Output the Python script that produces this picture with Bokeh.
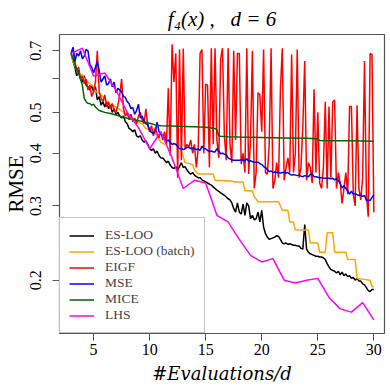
from math import pi
from bokeh.plotting import figure
from bokeh.models import FixedTicker, Range1d
from bokeh.embed import file_html
from bokeh.resources import INLINE

D = 6
evaluations = list(range(18, 181))
x_grid = [n / D for n in evaluations]

es_loo = [
    0.69, 0.66, 0.64, 0.61, 0.63, 0.60,
    0.59, 0.61, 0.58, 0.575, 0.565, 0.58,
    0.56, 0.575, 0.535, 0.545, 0.52, 0.53,
    0.515, 0.53, 0.51, 0.52, 0.50, 0.51,
    0.495, 0.50, 0.49, 0.485, 0.49, 0.475,
    0.47, 0.458, 0.455, 0.45, 0.455, 0.44,
    0.437, 0.44, 0.43, 0.425, 0.428, 0.42,
    0.41, 0.406, 0.41, 0.40, 0.405, 0.395,
    0.39, 0.39, 0.385, 0.38, 0.383, 0.375,
    0.37, 0.368, 0.372, 0.365, 0.372, 0.38,
    0.37, 0.372, 0.365, 0.36, 0.357, 0.36,
    0.355, 0.352, 0.35, 0.35, 0.346, 0.344,
    0.342, 0.34, 0.338, 0.336, 0.333, 0.33,
    0.327, 0.325, 0.322, 0.32, 0.318, 0.315,
    0.312, 0.31, 0.305, 0.296, 0.29, 0.305,
    0.29, 0.287, 0.303, 0.285, 0.305, 0.30,
    0.28, 0.285, 0.278, 0.28, 0.29, 0.275,
    0.293, 0.267, 0.258, 0.253, 0.25, 0.251,
    0.252, 0.253, 0.255, 0.254, 0.25, 0.245,
    0.244, 0.245, 0.243, 0.244, 0.243, 0.242,
    0.242, 0.241, 0.241, 0.238, 0.237, 0.271,
    0.237, 0.233, 0.231, 0.23, 0.229, 0.228,
    0.228, 0.227, 0.227, 0.226, 0.224, 0.219,
    0.215, 0.212, 0.211, 0.21, 0.208, 0.21,
    0.206, 0.209, 0.205, 0.207, 0.204, 0.205,
    0.202, 0.203, 0.20, 0.202, 0.199, 0.199,
    0.196, 0.195, 0.192, 0.189, 0.188, 0.19,
    0.19,
]

eigf = [
    0.69, 0.713, 0.66, 0.63, 0.64, 0.60,
    0.61, 0.585, 0.60, 0.565, 0.58, 0.545,
    0.56, 0.59, 0.70, 0.56, 0.54, 0.53,
    0.55, 0.515, 0.53, 0.51, 0.525, 0.505,
    0.50, 0.52, 0.55, 0.60, 0.51, 0.49,
    0.50, 0.48, 0.495, 0.475, 0.485, 0.47,
    0.49, 0.50, 0.48, 0.47, 0.51, 0.465,
    0.45, 0.465, 0.44, 0.46, 0.445, 0.435,
    0.45, 0.43, 0.45, 0.42, 0.57, 0.395,
    0.725, 0.59, 0.69, 0.35, 0.705, 0.385,
    0.709, 0.41, 0.42, 0.413, 0.43, 0.40,
    0.42, 0.37, 0.41, 0.69, 0.705, 0.40,
    0.583, 0.58, 0.37, 0.71, 0.42, 0.71,
    0.43, 0.39, 0.67, 0.71, 0.44, 0.385,
    0.71, 0.42, 0.38, 0.70, 0.43, 0.69,
    0.69, 0.377, 0.40, 0.36, 0.71, 0.357,
    0.43, 0.70, 0.33, 0.36, 0.557, 0.55,
    0.45, 0.705, 0.36, 0.357, 0.42, 0.71,
    0.33, 0.345, 0.38, 0.35, 0.567, 0.71,
    0.345, 0.37, 0.39, 0.36, 0.686, 0.36,
    0.40, 0.705, 0.35, 0.37, 0.466, 0.662,
    0.345, 0.38, 0.37, 0.34, 0.567, 0.36,
    0.50, 0.34, 0.33, 0.37, 0.53, 0.33,
    0.516, 0.35, 0.53, 0.535, 0.33, 0.36,
    0.34, 0.304, 0.33, 0.36, 0.32, 0.516,
    0.516, 0.32, 0.30, 0.52, 0.33, 0.31,
    0.35, 0.662, 0.32, 0.283, 0.69, 0.685,
    0.29,
]

mse = [
    0.69, 0.713, 0.66, 0.69, 0.68, 0.70,
    0.67, 0.68, 0.705, 0.70, 0.65, 0.64,
    0.62, 0.64, 0.66, 0.63, 0.59, 0.60,
    0.61, 0.58, 0.585, 0.60, 0.575, 0.59,
    0.556, 0.57, 0.565, 0.56, 0.545, 0.543,
    0.53, 0.525, 0.51, 0.514, 0.495, 0.505,
    0.523, 0.485, 0.49, 0.476, 0.47, 0.468,
    0.455, 0.448, 0.445, 0.45, 0.474, 0.45,
    0.445, 0.44, 0.433, 0.428, 0.43, 0.425,
    0.42, 0.422, 0.42, 0.415, 0.41, 0.41,
    0.408, 0.41, 0.413, 0.413, 0.41, 0.412,
    0.41, 0.408, 0.41, 0.406, 0.416, 0.41,
    0.41, 0.406, 0.404, 0.405, 0.403, 0.403,
    0.41, 0.405, 0.399, 0.40, 0.398, 0.397,
    0.39, 0.388, 0.386, 0.385, 0.385, 0.385,
    0.385, 0.386, 0.385, 0.384, 0.388, 0.383,
    0.384, 0.382, 0.381, 0.381, 0.381, 0.378,
    0.376, 0.372, 0.37, 0.366, 0.362, 0.363,
    0.36, 0.361, 0.36, 0.36, 0.359, 0.36,
    0.36, 0.359, 0.36, 0.357, 0.355, 0.356,
    0.355, 0.354, 0.355, 0.353, 0.352, 0.354,
    0.353, 0.352, 0.356, 0.357, 0.352, 0.352,
    0.351, 0.350, 0.350, 0.349, 0.349, 0.349,
    0.349, 0.348, 0.349, 0.346, 0.348, 0.345,
    0.339, 0.331, 0.335, 0.330, 0.326, 0.32,
    0.325, 0.32, 0.321, 0.319, 0.318, 0.318,
    0.316, 0.318, 0.309, 0.31, 0.309, 0.314,
    0.319,
]

batch_evals = [18, 19, 20, 21, 22, 23, 24, 25, 27, 29, 30, 31, 33, 35, 37, 39,
               42, 44, 46, 48, 51, 54, 56, 58, 60, 62, 64, 66, 68, 70, 72, 76,
               77, 79, 83, 84, 86, 94, 95, 104, 105, 110, 111, 115, 116, 118,
               129, 131, 134, 135, 137, 138, 145, 146, 150, 151, 154, 155, 158,
               159, 165, 166, 170, 171, 178, 179, 180]
batch_y = [0.69, 0.66, 0.645, 0.63, 0.615, 0.61, 0.615, 0.60, 0.59, 0.58, 0.575,
           0.56, 0.555, 0.545, 0.53, 0.522, 0.515, 0.508, 0.50, 0.492, 0.485,
           0.474, 0.47, 0.458, 0.455, 0.45, 0.44, 0.425, 0.42, 0.428, 0.42,
           0.419, 0.405, 0.38, 0.376, 0.365, 0.357, 0.357, 0.345, 0.344, 0.342,
           0.342, 0.326, 0.326, 0.316, 0.307, 0.307, 0.293, 0.293, 0.275,
           0.275, 0.263, 0.263, 0.245, 0.245, 0.233, 0.233, 0.259, 0.259,
           0.233, 0.233, 0.224, 0.224, 0.202, 0.200, 0.193, 0.193]

mice_evals = [18, 19, 20, 21, 22, 23, 24, 25, 26, 27, 28, 29, 30, 31, 32, 33,
              36, 39, 42, 45, 48, 51, 54, 57, 60, 63, 66, 72, 78, 84, 90, 95,
              96, 97, 98, 102, 108, 120, 132, 144, 150, 151, 156, 168, 180]
mice_y = [0.69, 0.67, 0.65, 0.63, 0.62, 0.60, 0.58, 0.54, 0.53, 0.525, 0.525,
          0.52, 0.523, 0.515, 0.51, 0.505, 0.50, 0.497, 0.493, 0.488, 0.484,
          0.481, 0.478, 0.475, 0.471, 0.467, 0.465, 0.464, 0.463, 0.462, 0.461,
          0.458, 0.455, 0.44, 0.439, 0.438, 0.437, 0.436, 0.435, 0.434, 0.433,
          0.429, 0.428, 0.428, 0.427]

lhs_x = list(range(3, 31))
lhs_y = [0.69, 0.71, 0.61, 0.62, 0.565, 0.50, 0.46, 0.41, 0.45, 0.39, 0.33,
         0.345, 0.34, 0.285, 0.275, 0.25, 0.229, 0.221, 0.225, 0.20, 0.197,
         0.20, 0.202, 0.182, 0.171, 0.168, 0.177, 0.161]

x_ticks = [5, 10, 15, 20, 25, 30]
y_ticks = [0.2, 0.3, 0.4, 0.5, 0.6, 0.7]
y_tick_labels = {0.2: "0.2", 0.3: "0.3", 0.4: "0.4", 0.5: "0.5", 0.6: "", 0.7: "0.7"}

SERIF = "Liberation Serif"
FRAME = "#555555"

p = figure(frame_width=325, frame_height=299, output_backend="svg",
           toolbar_location=None, y_axis_type="log",
           x_range=Range1d(1.96, 30.95), y_range=Range1d(0.1495, 0.765),
           min_border_left=58, min_border_right=6, min_border_top=10,
           min_border_bottom=40)

p.title.text = "f\u2084(x) ,\u00a0\u00a0\u00a0d = 6"
p.title.text_font = SERIF
p.title.text_font_size = "21px"
p.title.text_font_style = "italic"
p.title.align = "center"
p.title.text_color = "black"
p.title.standoff = 8

lw = 1.5
p.line(x_grid, es_loo, color="black", line_width=lw, legend_label="ES-LOO")
p.line([n / D for n in batch_evals], batch_y, color="orange", line_width=lw,
       legend_label="ES-LOO (batch)")
p.line(x_grid, eigf, color="red", line_width=lw, legend_label="EIGF")
p.line(x_grid, mse, color="blue", line_width=lw, legend_label="MSE")
p.line([n / D for n in mice_evals], mice_y, color="darkgreen", line_width=lw,
       legend_label="MICE")
p.line(lhs_x, lhs_y, color="magenta", line_width=lw, legend_label="LHS")

p.xaxis.ticker = FixedTicker(ticks=x_ticks)
p.yaxis.ticker = FixedTicker(ticks=y_ticks)
p.yaxis.major_label_overrides = y_tick_labels
p.yaxis.major_label_orientation = "vertical"
p.axis.axis_line_color = None
p.axis.major_tick_out = 7
p.axis.major_tick_in = 0
p.axis.major_tick_line_color = FRAME
p.axis.minor_tick_line_color = None
p.axis.major_label_text_font = SERIF
p.axis.major_label_text_font_size = "16px"
p.axis.major_label_text_color = "black"
p.xaxis.major_label_standoff = 3
p.yaxis.major_label_standoff = 11

p.xaxis.axis_label = "#Evaluations/d"
p.xaxis.axis_label_text_font = "DejaVu Serif"
p.xaxis.axis_label_text_font_size = "18px"
p.xaxis.axis_label_text_font_style = "italic"
p.xaxis.axis_label_standoff = 5
p.yaxis.axis_label = "RMSE"
p.yaxis.axis_label_text_font = SERIF
p.yaxis.axis_label_text_font_size = "21px"
p.yaxis.axis_label_text_font_style = "normal"
p.yaxis.axis_label_standoff = 0
p.axis.axis_label_text_color = "black"

p.grid.visible = False
p.outline_line_color = FRAME
p.outline_line_width = 1.2
p.background_fill_color = "white"
p.border_fill_color = "white"

lg = p.legend[0]
lg.location = "bottom_left"
lg.margin = 0
lg.padding = 9
lg.spacing = 0
lg.glyph_width = 25
lg.glyph_height = 15
lg.label_height = 15
lg.label_standoff = 11
lg.label_text_font = SERIF
lg.label_text_font_size = "13.5px"
lg.label_text_line_height = 1.0
lg.border_line_color = "#888888"
lg.border_line_width = 1.5
lg.background_fill_alpha = 1.0

open("out.html", "w").write(file_html(p, INLINE))
